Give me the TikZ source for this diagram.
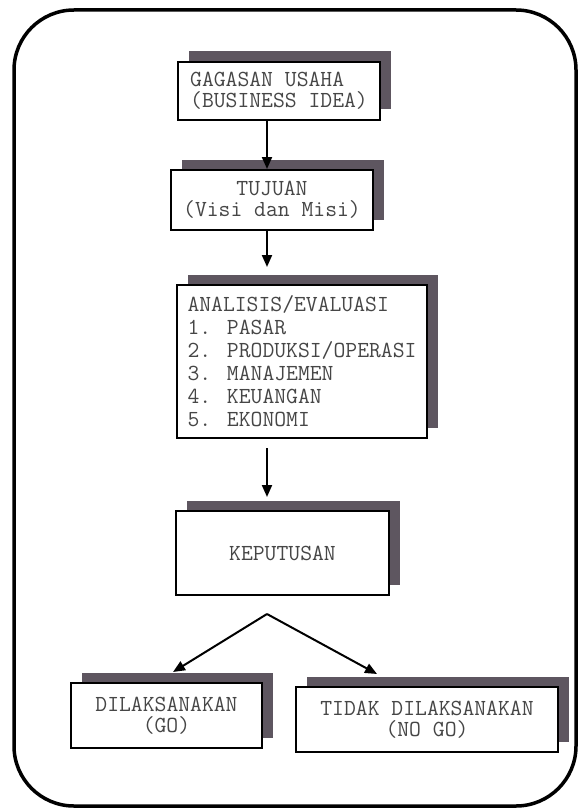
\documentclass[tikz,border=0pt]{standalone}
\usepackage{tikz}
\usetikzlibrary{arrows.meta,shadows}
\definecolor{shadowgray}{RGB}{94,86,96}
\definecolor{textgray}{RGB}{70,70,70}

\begin{document}
\begin{tikzpicture}[x=0.5pt,y=-0.5pt,
  box/.style={draw=black,line width=1pt,fill=white,inner sep=0pt,
    general shadow={fill=shadowgray,shadow xshift=5.25pt,shadow yshift=5.25pt},
    font=\ttfamily\fontsize{11.5}{10.5}\selectfont,text=textgray},
  arr/.style={line width=1pt,-{Triangle[length=6pt,width=5pt]}},
  frame/.style={line width=1.75pt,rounded corners=30pt}]
\useasboundingbox (0,0) rectangle (578,808);
\draw[frame] (14,10) rectangle (576,806);
\coordinate (ax) at (267,0);
\node[box,minimum width=101pt,minimum height=29pt,align=left] (gagasan) at (279,91) {GAGASAN USAHA\\(BUSINESS IDEA)};
\node[box,minimum width=101pt,minimum height=30pt,align=center] (tujuan) at (272,200) {TUJUAN\\(Visi dan Misi)};
\node[box,minimum width=125pt,minimum height=76.5pt,align=left,font=\ttfamily\fontsize{11.5}{11.5}\selectfont] (analisis) at (302,361.5) {ANALISIS/EVALUASI\\1. PASAR\\2. PRODUKSI/OPERASI\\3. MANAJEMEN\\4. KEUANGAN\\5. EKONOMI};
\node[box,minimum width=106.5pt,minimum height=42pt] (keputusan) at (282.5,553) {KEPUTUSAN};
\node[box,minimum width=95.5pt,minimum height=32.5pt,align=center] (go) at (166.5,715.5) {DILAKSANAKAN\\(GO)};
\node[box,minimum width=131pt,minimum height=32.5pt,align=center] (nogo) at (427,719.5) {TIDAK DILAKSANAKAN\\(NO GO)};
\coordinate (split) at (267,614);
\draw[arr] (gagasan.south -| ax) -- (tujuan.north -| ax);
\draw[arr,shorten >=8.5pt] (tujuan.south -| ax) -- (analisis.north -| ax);
\draw[arr,shorten <=4.5pt,shorten >=6.5pt] (analisis.south -| ax) -- (keputusan.north -| ax);
\draw[arr] (split) -- ([xshift=3.25pt,yshift=5pt]go.north);
\draw[arr] (split) -- ([xshift=-25pt,yshift=6pt]nogo.north);
\end{tikzpicture}
\end{document}
